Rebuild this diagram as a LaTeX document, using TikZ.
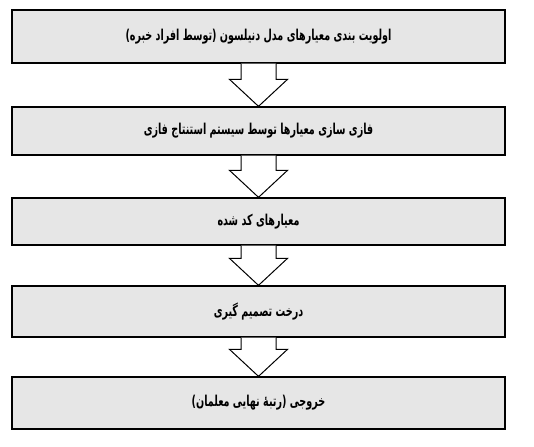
\documentclass[tikz,border=0pt]{standalone}
\usepackage{fontspec}
\usepackage{graphicx}
\usetikzlibrary{calc}
\TeXXeTstate=1
\newfontfamily\arabicfont[Script=Arabic]{DejaVu Sans}
\definecolor{boxfill}{RGB}{230,230,230}
\newcommand{\rtltext}[1]{\scalebox{0.64}[1]{\beginR #1\endR}}
\tikzset{
  stagebox/.style={draw=black, line width=1.3pt, fill=boxfill, rectangle,
    minimum width=493pt, inner sep=0pt, font=\arabicfont\bfseries\fontsize{15}{18}\selectfont},
  blockarrow/.style={draw=black, line width=1pt, fill=white, line join=miter}
}
\newcommand{\downarrowblock}[2]{%
  \draw[blockarrow] ($(#1.south)+(-17.5,0)$) -- ($(#2.north)+(-17.5,-27)$)
    -- ($(#2.north)+(-29,-27)$) -- (#2.north) -- ($(#2.north)+(29,-27)$)
    -- ($(#2.north)+(17.5,-27)$) -- ($(#1.south)+(17.5,0)$);}
\begin{document}
\begin{tikzpicture}[x=1pt,y=-1pt]
\useasboundingbox (0,0) rectangle (534,446);
\node[stagebox, minimum height=53pt] (b1) at (258.5,36.5) {\rtltext{اولویت بندی معیارهای مدل دنیلسون (توسط افراد خبره)}};
\node[stagebox, minimum height=48pt] (b2) at (258.5,131) {\rtltext{فازی سازی معیارها توسط سیستم استنتاج فازی}};
\node[stagebox, minimum height=47pt] (b3) at (258.5,221.5) {\rtltext{معیارهای کد شده}};
\node[stagebox, minimum height=51pt] (b4) at (258.5,311.5) {\rtltext{درخت تصمیم گیری}};
\node[stagebox, minimum height=52pt] (b5) at (258.5,403) {\rtltext{خروجی (رتبهٔ نهایی معلمان)}};
\downarrowblock{b1}{b2}
\downarrowblock{b2}{b3}
\downarrowblock{b3}{b4}
\downarrowblock{b4}{b5}
\end{tikzpicture}
\end{document}
